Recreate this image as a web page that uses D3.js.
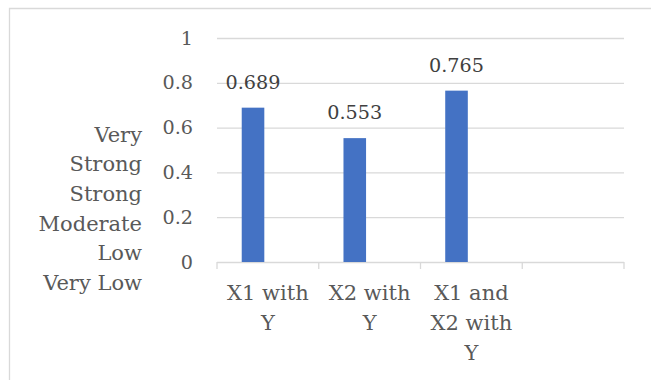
<!DOCTYPE html>
<html>
<head>
<meta charset="utf-8">
<script src="https://cdn.jsdelivr.net/npm/d3@7"></script>
<style>
html,body{margin:0;padding:0;background:#fff;}
svg{display:block;}
</style>
</head>
<body>
<svg id="chart" width="651" height="380"></svg>
<script>
const categories = ["X1 with Y", "X2 with Y", "X1 and X2 with Y", ""];
const categoryLines = [["X1 with", "Y"], ["X2 with", "Y"], ["X1 and", "X2 with", "Y"], []];
const values = [0.689, 0.553, 0.765, null];
const valueLabels = ["0.689", "0.553", "0.765", ""];
const yTicks = [0, 0.2, 0.4, 0.6, 0.8, 1];
const yTickLabels = ["0", "0.2", "0.4", "0.6", "0.8", "1"];
const strengthLines = ["Very", "Strong", "Strong", "Moderate", "Low", "Very Low"];

const FONT = "'DejaVu Serif', serif";
const FS_WORD = 21;
const FS_NUM = 19.2;
const svg = d3.select("#chart");

// outer frame (top and left edges visible)
svg.append("path")
  .attr("d", "M9.5,400 L9.5,8.5 L660,8.5")
  .attr("fill", "none").attr("stroke", "#d9d9d9").attr("stroke-width", 1.3);

const plotLeft = 217, plotRight = 624, plotTop = 38, plotBottom = 262;
const x = d3.scaleBand().domain(d3.range(categories.length)).range([plotLeft, plotRight]).padding(0);
const y = d3.scaleLinear().domain([0, 1]).range([plotBottom, plotTop]);

// gridlines + y labels
const yAxis = d3.axisLeft(y)
  .tickValues(yTicks)
  .tickFormat((d, i) => yTickLabels[i])
  .tickSize(-(plotRight - plotLeft))
  .tickPadding(24);
const gy = svg.append("g").attr("transform", `translate(${plotLeft},0)`).call(yAxis);
gy.select(".domain").remove();
gy.selectAll(".tick line").attr("stroke", "#d9d9d9").attr("stroke-width", 1.3);
gy.selectAll(".tick text")
  .attr("font-family", FONT).attr("font-size", FS_NUM).attr("fill", "#595959");

// category tick marks at band boundaries
const bounds = d3.range(categories.length + 1).map(i => plotLeft + i * x.bandwidth());
svg.append("g").selectAll("line").data(bounds).join("line")
  .attr("x1", d => d).attr("x2", d => d)
  .attr("y1", plotBottom).attr("y2", plotBottom + 7)
  .attr("stroke", "#d9d9d9").attr("stroke-width", 1.3);

// bars
const bw = x.bandwidth();
const barOff = bw * 0.243, barW = bw * 0.222;
const data = categories.map((c, i) => ({i, v: values[i], label: valueLabels[i]})).filter(d => d.v != null);
svg.append("g").selectAll("rect").data(data).join("rect")
  .attr("x", d => x(d.i) + barOff)
  .attr("width", barW)
  .attr("y", d => y(d.v))
  .attr("height", d => y(0) - y(d.v))
  .attr("fill", "#4472c4");

// value labels
svg.append("g").selectAll("text").data(data).join("text")
  .attr("x", d => x(d.i) + barOff + barW / 2)
  .attr("y", d => y(d.v) - 19)
  .attr("text-anchor", "middle")
  .attr("font-family", FONT).attr("font-size", FS_NUM).attr("fill", "#404040")
  .text(d => d.label);

// category labels
const cl = svg.append("g");
categoryLines.forEach((lines, i) => {
  lines.forEach((ln, j) => {
    cl.append("text")
      .attr("x", x(i) + bw / 2)
      .attr("y", 300 + j * 29.8)
      .attr("text-anchor", "middle")
      .attr("font-family", FONT).attr("font-size", FS_WORD).attr("fill", "#595959")
      .text(ln);
  });
});

// strength labels (left)
svg.append("g").selectAll("text").data(strengthLines).join("text")
  .attr("x", 142)
  .attr("y", (d, i) => 141.5 + i * 29.7)
  .attr("text-anchor", "end")
  .attr("font-family", FONT).attr("font-size", FS_WORD).attr("fill", "#595959")
  .text(d => d);
</script>
</body>
</html>
